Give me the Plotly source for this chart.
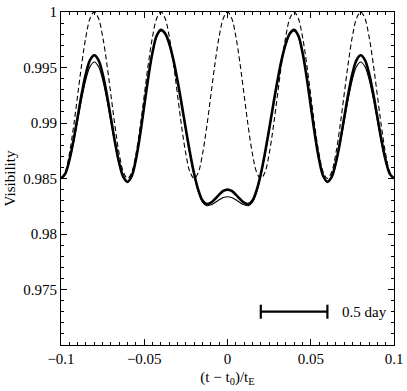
import plotly.graph_objects as go

# time axis, (t - t0)/tE, step 0.0025
x = [round(-0.1 + 0.0025 * i, 4) for i in range(81)]

# thick solid curve
vis_thick = [
    0.98500, 0.98542, 0.98663, 0.98843, 0.99055, 0.99267, 0.99447, 0.99568, 0.99610,
    0.99567, 0.99443, 0.99258, 0.99040, 0.98822, 0.98637, 0.98513, 0.98470,
    0.98522, 0.98671, 0.98893, 0.99155, 0.99417, 0.99639, 0.99788, 0.99840,
    0.99808, 0.99715, 0.99569, 0.99381, 0.99167, 0.98943, 0.98729, 0.98541,
    0.98395, 0.98302, 0.98270, 0.98282, 0.98315, 0.98355, 0.98388, 0.98400,
    0.98388, 0.98355, 0.98315, 0.98282, 0.98270, 0.98302, 0.98395, 0.98541,
    0.98729, 0.98943, 0.99167, 0.99381, 0.99569, 0.99715, 0.99808, 0.99840,
    0.99788, 0.99639, 0.99417, 0.99155, 0.98893, 0.98671, 0.98522, 0.98470,
    0.98513, 0.98637, 0.98822, 0.99040, 0.99258, 0.99443, 0.99567, 0.99610,
    0.99568, 0.99447, 0.99267, 0.99055, 0.98843, 0.98663, 0.98542, 0.98500,
]

# thin solid curve
vis_thin = [
    0.98500, 0.98540, 0.98654, 0.98824, 0.99025, 0.99226, 0.99396, 0.99510, 0.99550,
    0.99509, 0.99392, 0.99217, 0.99010, 0.98803, 0.98628, 0.98511, 0.98470,
    0.98522, 0.98670, 0.98890, 0.99150, 0.99410, 0.99631, 0.99778, 0.99830,
    0.99798, 0.99705, 0.99558, 0.99370, 0.99155, 0.98930, 0.98715, 0.98527,
    0.98380, 0.98287, 0.98255, 0.98263, 0.98283, 0.98308, 0.98328, 0.98336,
    0.98328, 0.98308, 0.98283, 0.98263, 0.98255, 0.98287, 0.98380, 0.98527,
    0.98715, 0.98930, 0.99155, 0.99370, 0.99558, 0.99705, 0.99798, 0.99830,
    0.99778, 0.99631, 0.99410, 0.99150, 0.98890, 0.98670, 0.98522, 0.98470,
    0.98511, 0.98628, 0.98803, 0.99010, 0.99217, 0.99392, 0.99509, 0.99550,
    0.99510, 0.99396, 0.99226, 0.99025, 0.98824, 0.98654, 0.98540, 0.98500,
]

# dashed curve
vis_dashed = [
    0.98500, 0.98557, 0.98720, 0.98963, 0.99250, 0.99537, 0.99780, 0.99943,
    1.00000, 0.99943, 0.99780, 0.99537, 0.99250, 0.98963, 0.98720, 0.98557,
    0.98500, 0.98557, 0.98720, 0.98963, 0.99250, 0.99537, 0.99780, 0.99943,
    1.00000, 0.99943, 0.99780, 0.99537, 0.99250, 0.98963, 0.98720, 0.98557,
    0.98500, 0.98557, 0.98720, 0.98963, 0.99250, 0.99537, 0.99780, 0.99943,
    1.00000, 0.99943, 0.99780, 0.99537, 0.99250, 0.98963, 0.98720, 0.98557,
    0.98500, 0.98557, 0.98720, 0.98963, 0.99250, 0.99537, 0.99780, 0.99943,
    1.00000, 0.99943, 0.99780, 0.99537, 0.99250, 0.98963, 0.98720, 0.98557,
    0.98500, 0.98557, 0.98720, 0.98963, 0.99250, 0.99537, 0.99780, 0.99943,
    1.00000, 0.99943, 0.99780, 0.99537, 0.99250, 0.98963, 0.98720, 0.98557,
    0.98500,
]

# scale bar: 0.5 day
bar_x = [0.02, 0.06]
bar_y = [0.973, 0.973]
bar_label = "0.5 day"

yticks = [0.975, 0.98, 0.985, 0.99, 0.995, 1.0]
yticktext = ["0.975", "0.98", "0.985", "0.99", "0.995", "1"]
xticks = [-0.1, -0.05, 0, 0.05, 0.1]
xticktext = ["\u22120.1", "\u22120.05", "0", "0.05", "0.1"]

font = "Liberation Serif"

fig = go.Figure()
fig.add_trace(go.Scatter(x=x, y=vis_dashed, mode="lines",
                         line=dict(color="black", width=1.1, dash="5px,3px", shape="spline")))
fig.add_trace(go.Scatter(x=x, y=vis_thin, mode="lines",
                         line=dict(color="black", width=1.1, shape="spline")))
fig.add_trace(go.Scatter(x=x, y=vis_thick, mode="lines",
                         line=dict(color="black", width=2.6, shape="spline")))
fig.add_trace(go.Scatter(x=bar_x, y=bar_y, mode="lines+markers",
                         line=dict(color="black", width=2.2),
                         marker=dict(symbol="line-ns", size=10,
                                     line=dict(color="black", width=2.2))))
fig.add_annotation(x=0.0825, y=bar_y[0], text=bar_label, showarrow=False,
                   font=dict(family=font, size=15, color="black"))

axis_common = dict(showgrid=False, zeroline=False, showline=True, linecolor="black",
                   linewidth=1, mirror="allticks", ticks="inside", ticklen=6,
                   tickcolor="black", automargin=False, ticklabeloverflow="allow",
                   tickfont=dict(family=font, size=15, color="black"))

fig.update_xaxes(range=[-0.1, 0.1], tickmode="array", tickvals=xticks, ticktext=xticktext,
                 minor=dict(ticks="inside", tickmode="linear", tick0=-0.1, dtick=0.005,
                            ticklen=3, tickcolor="black"),
                 title=dict(text="(t \u2212 t<sub>0</sub>)/t<sub>E</sub>",
                            font=dict(family=font, size=15, color="black"), standoff=5),
                 **axis_common)
fig.update_yaxes(range=[0.97, 1.0], tickmode="array", tickvals=yticks, ticktext=yticktext,
                 minor=dict(ticks="inside", tickmode="linear", tick0=0.97, dtick=0.001,
                            ticklen=3, tickcolor="black"),
                 title=dict(text="Visibility", font=dict(family=font, size=15, color="black"),
                            standoff=4),
                 **axis_common)

fig.update_layout(width=407, height=391, showlegend=False,
                  paper_bgcolor="white", plot_bgcolor="white",
                  font=dict(family=font, color="black"),
                  margin=dict(l=61, r=13, t=12, b=46))

# drop the default 8px body margin so the figure fills the window
fig.write_html("out.html", config={"displayModeBar": False},
               post_script="document.body.style.margin='0';")
